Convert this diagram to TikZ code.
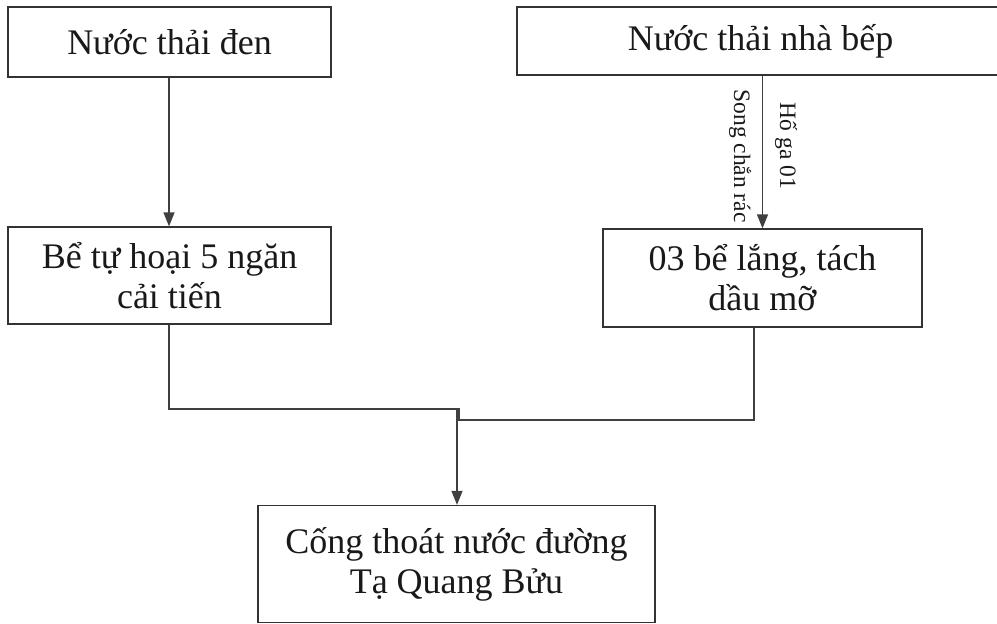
\documentclass[tikz,border=0pt]{standalone}
\usepackage{fontspec}
\setmainfont{Liberation Serif}
\usetikzlibrary{arrows.meta}
\begin{document}
\begin{tikzpicture}[x=1pt,y=-1pt,
  box/.style={draw=black!80, line width=1.3pt, rectangle, inner sep=0pt, align=center,
    font=\fontsize{36}{40}\selectfont, text=black!90},
  conn/.style={draw=black!75, line width=1.3pt},
  arr/.style={conn, -{Triangle[length=14pt,width=11pt]}},
  lbl/.style={font=\fontsize{23.5}{26}\selectfont, rotate=-90, inner sep=0pt, text=black!90}]
\useasboundingbox (0,0) rectangle (997,624);
\node[box, minimum width=323, minimum height=70] (b1) at (169.5,42) {Nước thải đen};
\node[box, minimum width=487, minimum height=68] (b2) at (760.5,41) {Nước thải nhà bếp};
\node[box, minimum width=323, minimum height=97] (b3) at (169.5,275.5) {Bể tự hoại 5 ngăn\\cải tiến};
\node[box, minimum width=319, minimum height=98] (b4) at (762.5,278) {03 bể lắng, tách\\dầu mỡ};
\node[box, minimum width=397, minimum height=117] (b5) at (456.5,564) {Cống thoát nước đường\\Tạ Quang Bửu};
\coordinate (ja) at (169,409);
\coordinate (jb) at (457,409);
\coordinate (jc) at (459,409);
\coordinate (jd) at (459,420);
\coordinate (je) at (754,420);
\draw[arr] (b1.south -| ja) -- (b3.north -| ja);
\draw[arr] (b2.south -| b4.north) -- (b4.north);
\draw[conn] (b3.south -| ja) -- (ja) -- (jc) -- (jd) -- (je) -- (b4.south -| je);
\draw[arr] (jb) -- (b5.north -| jb);
\node[lbl] (l1) at (740,156) {Song chắn rác};
\node[lbl] (l2) at (786,146) {Hố ga 01};
\end{tikzpicture}
\end{document}
